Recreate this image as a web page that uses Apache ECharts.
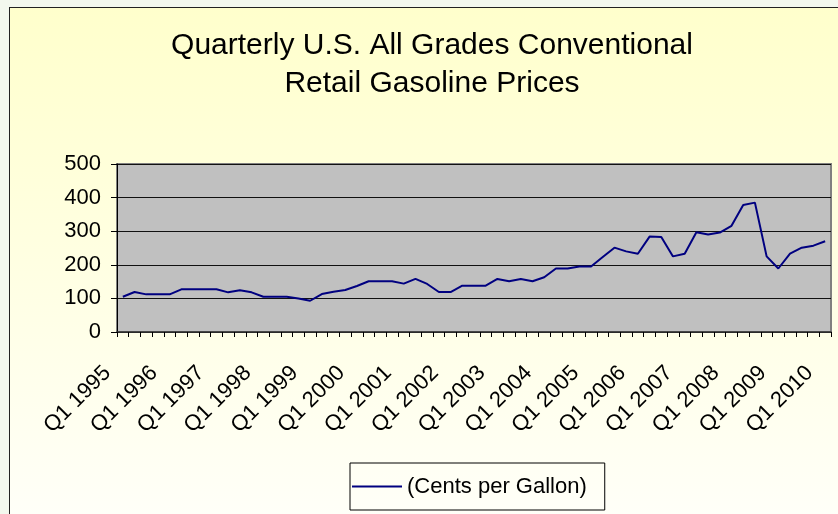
<!DOCTYPE html>
<html>
<head>
<meta charset="utf-8">
<title>Quarterly U.S. Gasoline Prices</title>
<script src="https://cdn.jsdelivr.net/npm/echarts@6/dist/echarts.min.js"></script>
<style>
  html, body { margin: 0; padding: 0; background: #f3f8ee; overflow: hidden; }
  #main { position: absolute; left: 9px; top: 7px; width: 829px; height: 507px;
          border-left: 1px solid #222; border-top: 1px solid #222; }
</style>
</head>
<body>
<div id="main"></div>
<script type="text/javascript">
var quarters = [
  'Q1 1995','Q2 1995','Q3 1995','Q4 1995','Q1 1996','Q2 1996','Q3 1996','Q4 1996',
  'Q1 1997','Q2 1997','Q3 1997','Q4 1997','Q1 1998','Q2 1998','Q3 1998','Q4 1998',
  'Q1 1999','Q2 1999','Q3 1999','Q4 1999','Q1 2000','Q2 2000','Q3 2000','Q4 2000',
  'Q1 2001','Q2 2001','Q3 2001','Q4 2001','Q1 2002','Q2 2002','Q3 2002','Q4 2002',
  'Q1 2003','Q2 2003','Q3 2003','Q4 2003','Q1 2004','Q2 2004','Q3 2004','Q4 2004',
  'Q1 2005','Q2 2005','Q3 2005','Q4 2005','Q1 2006','Q2 2006','Q3 2006','Q4 2006',
  'Q1 2007','Q2 2007','Q3 2007','Q4 2007','Q1 2008','Q2 2008','Q3 2008','Q4 2008',
  'Q1 2009','Q2 2009','Q3 2009','Q4 2009','Q1 2010'
];
// cents per gallon
var prices = [
  105, 119, 112, 112, 112, 127, 127, 127, 127, 118, 124, 118, 105, 105, 105, 100,
  93, 113, 120, 125, 137, 151, 151, 151, 144, 158, 143, 119, 119, 138, 138, 138,
  158, 151, 158, 151, 163, 189, 189, 195, 195, 223, 251, 240, 233, 284, 283, 225,
  233, 297, 290, 296, 316, 378, 385, 225, 189, 233, 251, 257, 270
];
var yTicks = { min: 0, max: 500, interval: 100 };

var font = 'Arial, "Liberation Sans", sans-serif';
var myChart = echarts.init(document.getElementById('main'));

var option = {
  animation: false,
  backgroundColor: {
    type: 'linear', x: 0, y: 0, x2: 0, y2: 1,
    colorStops: [{ offset: 0, color: '#ffffcc' }, { offset: 1, color: '#fffff8' }]
  },
  textStyle: { fontFamily: font },
  title: {
    text: 'Quarterly U.S. All Grades Conventional\nRetail Gasoline Prices',
    left: 422,
    top: 19,
    padding: 0,
    textAlign: 'center',
    textStyle: {
      fontFamily: font,
      fontSize: 30,
      fontWeight: 'normal',
      color: '#000',
      lineHeight: 38
    }
  },
  grid: {
    left: 107,
    right: 8,
    top: 156,
    bottom: 183,
    show: true,
    backgroundColor: '#c0c0c0',
    borderColor: '#808080',
    borderWidth: 2
  },
  legend: {
    data: ['(Cents per Gallon)'],
    left: 340,
    top: 455,
    orient: 'horizontal',
    icon: 'rect',
    itemWidth: 50,
    itemHeight: 2,
    padding: [12, 18, 12, 2],
    borderColor: '#000',
    borderWidth: 1,
    backgroundColor: 'transparent',
    textStyle: { fontFamily: font, fontSize: 22, color: '#000', lineHeight: 23 }
  },
  xAxis: {
    type: 'category',
    data: quarters,
    boundaryGap: true,
    axisLine: { show: true, lineStyle: { color: '#333', width: 1.5 } },
    axisTick: { show: true, interval: 0, length: 5, lineStyle: { color: '#000' } },
    axisLabel: {
      interval: 3,
      rotate: 45,
      margin: 22,
      padding: [0, 22, 0, 0],
      fontFamily: font,
      fontSize: 22,
      color: '#000'
    },
    splitLine: { show: false }
  },
  yAxis: {
    type: 'value',
    min: yTicks.min,
    max: yTicks.max,
    interval: yTicks.interval,
    axisLine: { show: true, lineStyle: { color: '#000', width: 1 } },
    axisTick: { show: true, length: 6, lineStyle: { color: '#000' } },
    axisLabel: { margin: 16, fontFamily: font, fontSize: 22, color: '#000' },
    splitLine: { show: true, lineStyle: { color: '#111', width: 1 } }
  },
  series: [{
    name: '(Cents per Gallon)',
    type: 'line',
    data: prices,
    showSymbol: false,
    symbol: 'none',
    lineStyle: { color: '#000080', width: 2 },
    itemStyle: { color: '#000080' }
  }]
};

myChart.setOption(option);
</script>
</body>
</html>
